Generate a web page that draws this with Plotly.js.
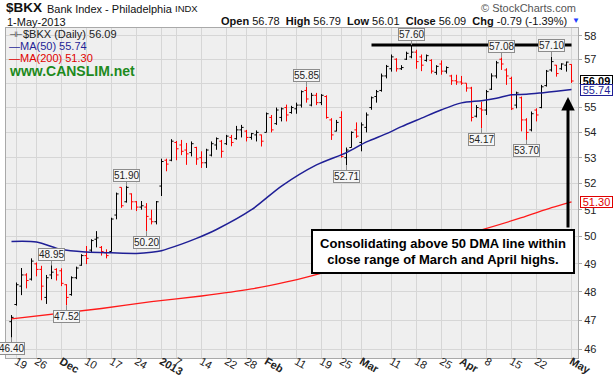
<!DOCTYPE html>
<html><head><meta charset="utf-8">
<script src="https://cdn.plot.ly/plotly-3.0.1.min.js"></script>
<style>html,body{margin:0;padding:0;background:#fff;}#chart{width:614px;height:375px;}</style>
</head><body><div id="chart"></div>
<script>
// ---------------- DATA ----------------
const dates = ['2012-11-16','2012-11-19','2012-11-20','2012-11-21','2012-11-23','2012-11-26','2012-11-27','2012-11-28','2012-11-29','2012-11-30',
'2012-12-03','2012-12-04','2012-12-05','2012-12-06','2012-12-07','2012-12-10','2012-12-11','2012-12-12','2012-12-13','2012-12-14',
'2012-12-17','2012-12-18','2012-12-19','2012-12-20','2012-12-21','2012-12-24','2012-12-26','2012-12-27','2012-12-28','2012-12-31',
'2013-01-02','2013-01-03','2013-01-04','2013-01-07','2013-01-08','2013-01-09','2013-01-10','2013-01-11','2013-01-14','2013-01-15',
'2013-01-16','2013-01-17','2013-01-18','2013-01-22','2013-01-23','2013-01-24','2013-01-25','2013-01-28','2013-01-29','2013-01-30',
'2013-01-31','2013-02-01','2013-02-04','2013-02-05','2013-02-06','2013-02-07','2013-02-08','2013-02-11','2013-02-12','2013-02-13',
'2013-02-14','2013-02-15','2013-02-19','2013-02-20','2013-02-21','2013-02-22','2013-02-25','2013-02-26','2013-02-27','2013-02-28',
'2013-03-01','2013-03-04','2013-03-05','2013-03-06','2013-03-07','2013-03-08','2013-03-11','2013-03-12','2013-03-13','2013-03-14',
'2013-03-15','2013-03-18','2013-03-19','2013-03-20','2013-03-21','2013-03-22','2013-03-25','2013-03-26','2013-03-27','2013-03-28',
'2013-04-01','2013-04-02','2013-04-03','2013-04-04','2013-04-05','2013-04-08','2013-04-09','2013-04-10','2013-04-11','2013-04-12',
'2013-04-15','2013-04-16','2013-04-17','2013-04-18','2013-04-19','2013-04-22','2013-04-23','2013-04-24','2013-04-25','2013-04-26',
'2013-04-29','2013-04-30','2013-05-01'];

const openP = [46.95,47.55,48.20,48.60,48.45,49.00,48.80,47.80,48.60,48.80,
48.75,48.25,47.90,48.50,48.95,49.30,49.50,49.90,49.60,49.40,
49.45,50.80,51.85,51.30,51.60,51.30,51.10,51.10,50.65,50.55,
51.90,52.90,52.90,53.60,53.50,53.30,53.20,53.40,53.00,52.80,
53.10,53.50,53.65,53.55,53.80,53.75,54.10,54.05,53.80,53.90,
53.90,54.00,54.60,54.35,54.60,55.00,54.80,54.95,55.10,55.70,
55.10,55.50,55.20,55.45,54.50,54.05,54.60,53.00,53.40,54.10,
53.60,54.20,55.00,55.45,55.70,56.30,56.60,57.00,56.60,57.00,
57.10,57.30,57.10,56.95,56.95,56.45,56.80,56.50,56.30,56.10,
56.05,56.00,55.80,54.65,54.95,54.90,55.75,56.30,57.00,56.55,
56.20,55.10,55.40,54.50,54.10,54.90,55.00,55.90,56.55,56.75,
56.60,56.75,56.78];

const highP = [47.18,48.33,48.85,48.66,49.20,49.05,48.93,48.60,48.95,48.84,
48.84,48.27,48.55,48.90,49.35,49.65,49.90,50.20,49.65,49.53,
50.70,51.65,51.85,51.90,51.62,51.33,51.33,51.25,51.00,51.33,
52.96,52.96,53.73,53.66,53.70,53.58,53.64,53.43,53.25,53.35,
53.64,53.80,53.70,53.90,53.90,54.26,54.30,54.10,53.98,54.08,
53.91,54.80,54.70,55.00,55.00,55.12,55.07,55.20,55.70,55.85,
55.60,55.60,55.55,55.50,54.57,54.50,54.85,53.40,54.04,54.40,
54.40,54.80,55.45,55.72,56.40,56.76,57.20,57.04,56.75,57.32,
57.60,57.40,57.20,57.20,57.00,56.75,56.95,56.70,56.35,56.35,
56.30,56.00,55.85,55.10,55.24,55.72,56.41,56.93,57.08,56.62,
56.27,55.65,55.45,54.57,54.84,54.97,55.93,56.55,57.10,56.76,
56.83,56.90,56.79];

const lowP = [46.40,47.51,47.88,48.12,48.40,48.55,47.70,47.57,48.45,48.40,
48.20,47.52,47.86,48.45,48.93,48.99,49.43,49.60,49.30,49.20,
49.45,50.64,51.07,51.27,51.00,50.95,51.00,50.20,50.45,50.45,
51.52,52.47,52.86,52.90,53.10,52.72,53.05,52.72,52.60,52.60,
53.05,53.31,53.00,53.50,53.45,53.71,53.80,53.64,53.71,53.64,
53.44,54.00,54.00,54.30,54.44,54.44,54.75,54.75,55.00,55.20,
55.05,55.10,55.10,54.55,53.70,54.04,53.00,52.71,53.40,53.78,
53.25,54.00,54.91,55.20,55.65,56.20,56.48,56.48,56.55,56.97,
57.04,56.60,56.50,56.90,56.40,56.35,56.35,56.40,55.93,55.93,
55.93,55.65,54.44,54.60,54.17,54.70,55.72,56.20,56.55,55.93,
54.90,54.97,54.04,53.70,54.04,54.44,54.97,55.86,56.48,56.27,
56.55,56.48,56.01];

const closeP = [47.10,48.25,48.60,48.40,49.10,48.80,48.20,48.50,48.70,48.60,
48.30,47.80,48.50,48.85,49.30,49.20,49.85,49.95,49.45,49.30,
50.65,51.60,51.15,51.85,51.30,51.10,51.15,50.75,50.55,51.30,
52.85,52.75,53.65,53.35,53.25,53.15,53.55,52.95,52.80,53.30,
53.55,53.75,53.25,53.85,53.60,54.10,54.20,53.80,53.95,54.00,
53.65,54.75,54.10,54.90,54.95,54.70,55.00,55.10,55.65,55.35,
55.50,55.20,55.50,54.60,53.90,54.40,53.05,53.30,54.00,53.85,
54.30,54.70,55.40,55.65,56.30,56.70,57.10,56.60,56.65,57.25,
57.30,56.90,56.75,57.15,56.50,56.70,56.50,56.65,56.10,56.05,
56.00,55.80,54.60,55.00,54.90,55.65,56.30,56.85,56.80,56.30,
54.95,55.60,54.50,54.00,54.75,54.70,55.85,56.50,56.90,56.40,
56.80,56.88,56.09];

// moving averages at sample dates
const ma50Dates = ['2012-11-16','2012-11-26','2012-12-03','2012-12-10','2012-12-17','2012-12-24','2012-12-28','2013-01-02','2013-01-08','2013-01-11',
'2013-01-17','2013-01-29','2013-02-06','2013-02-15','2013-02-26','2013-03-04','2013-03-08','2013-03-13','2013-03-19','2013-03-25',
'2013-04-01','2013-04-05','2013-04-10','2013-04-15','2013-04-18','2013-04-23','2013-04-26','2013-05-01'];
const ma50Vals = [49.82,49.80,49.52,49.43,49.40,49.38,49.42,49.48,49.72,49.93,
50.26,51.00,51.90,52.72,53.20,53.62,53.95,54.23,54.57,54.91,
55.19,55.28,55.38,55.52,55.54,55.60,55.67,55.74];
const ma200Dates = ['2012-11-16','2012-12-13','2012-12-28','2013-01-14','2013-01-29','2013-02-07','2013-02-14','2013-04-05','2013-04-17','2013-04-25','2013-05-01'];
const ma200Vals = [47.05,47.41,47.65,47.85,48.10,48.35,48.57,50.25,50.70,51.08,51.30];

const tickDates = ['2012-11-19','2012-11-26','2012-12-03','2012-12-10','2012-12-17','2012-12-24','2013-01-02','2013-01-07','2013-01-14','2013-01-22','2013-01-28','2013-02-01','2013-02-11','2013-02-19','2013-02-25','2013-03-01','2013-03-11','2013-03-18','2013-03-25','2013-04-01','2013-04-08','2013-04-15','2013-04-22','2013-05-01'];
const tickLabels = ['19','26','Dec','10','17','24','2013','7','14','22','28','Feb','11','19','25','Mar','11','18','25','Apr','8','15','22','May'];
const monthLabels = ['Dec','2013','Feb','Mar','Apr','May'];
const yTicks = [46,47,48,49,50,51,52,53,54,55,56,57,58];
const yTickLabels = ['46','47','48','49','50','51','52','53','54','55','','57','58']; // 56 hidden behind the price tag

const calloutDates = ['2012-11-16','2012-11-29','2012-12-04','2012-12-20','2012-12-27','2013-02-13','2013-02-26','2013-03-15','2013-04-05','2013-04-11','2013-04-18','2013-04-25'];
const calloutValues = [46.40,48.95,47.52,51.90,50.20,55.85,52.71,57.60,54.17,57.08,53.70,57.10];
const calloutSides = ['low','high','low','high','low','high','low','high','low','high','low','high'];

const resistanceDates = ['2013-03-05','2013-05-01'];
const resistanceLevel = 57.60;

const noteText = 'Consolidating above 50 DMA line within<br>close range of March and April highs.';

// ---------------- CHART ----------------
const F = 'Liberation Sans, Arial, sans-serif';
const L = 6, T = 28, W = 572, H = 330;
const X = d => dates.indexOf(d);
const idx = dates.map((d, i) => i);
const n = dates.length;

const upIds = [], dnIds = [];
for (let i = 0; i < n; i++) {
  if (i === 0 || closeP[i] >= closeP[i - 1]) upIds.push(i); else dnIds.push(i);
}
const pick = (arr, ids) => ids.map(i => arr[i]);
function ohlc(ids, color) {
  return {
    type: 'ohlc', x: pick(idx, ids), open: pick(openP, ids), high: pick(highP, ids),
    low: pick(lowP, ids), close: pick(closeP, ids), tickwidth: 0.42,
    increasing: {line: {color: color, width: 1}}, decreasing: {line: {color: color, width: 1}},
    hoverinfo: 'skip', showlegend: false
  };
}

const traces = [
  {type: 'scatter', mode: 'lines', x: ma200Dates.map(X), y: ma200Vals,
   line: {color: '#ff1a1a', width: 1.3, shape: 'spline', smoothing: 0.6}, hoverinfo: 'skip'},
  {type: 'scatter', mode: 'lines', x: ma50Dates.map(X), y: ma50Vals,
   line: {color: '#1f1f96', width: 1.5, shape: 'spline', smoothing: 0.8}, hoverinfo: 'skip'},
  ohlc(upIds, '#000000'),
  ohlc(dnIds, '#ff0000'),
  {type: 'scatter', mode: 'lines', x: resistanceDates.map(X), y: [resistanceLevel, resistanceLevel],
   line: {color: '#000000', width: 3}, hoverinfo: 'skip'}
];

function P(px, py, text, opts) {
  return Object.assign({xref: 'paper', yref: 'paper', x: (px - L) / W, y: (T + H - py) / H, text: text,
    showarrow: false, xanchor: 'left', yanchor: 'middle', font: {family: F, size: 11, color: '#222'}}, opts || {});
}

const last = n - 1;
const chg = closeP[last] - closeP[last - 1];
const pct = chg / closeP[last - 1] * 100;
const lastMA50 = ma50Vals[ma50Vals.length - 1];
const lastMA200 = ma200Vals[ma200Vals.length - 1];

const annotations = [
  P(4, 7.5, '<b>$BKX</b>', {font: {family: F, size: 13.5, color: '#111'}}),
  P(45, 8.5, 'Bank Index - Philadelphia', {font: {family: F, size: 11, color: '#111'}}),
  P(173, 8.5, 'INDX', {font: {family: F, size: 9.5, color: '#111'}}),
  P(5, 22, '1-May-2013', {font: {family: F, size: 11, color: '#111'}}),
  P(578, 7.5, '\u00A9 StockCharts.com', {xanchor: 'right', font: {family: F, size: 11, color: '#555'}}),
  P(569, 21, '<b>Open</b> ' + openP[last].toFixed(2) + '  <b>High</b> ' + highP[last].toFixed(2) +
     '  <b>Low</b> ' + lowP[last].toFixed(2) + '  <b>Close</b> ' + closeP[last].toFixed(2) +
     '  <b>Chg</b> ' + chg.toFixed(2) + ' (' + pct.toFixed(2) + '%)',
     {xanchor: 'right', font: {family: F, size: 11, color: '#111'}}),
  P(570, 21, '\u25BC', {font: {family: F, size: 8, color: '#1e3cff'}}),
  P(7, 34, '\u22A3\u22A2', {font: {family: 'DejaVu Sans', size: 8, color: '#222'}}),
  P(21, 34, '$BKX (Daily) ' + closeP[last].toFixed(2), {font: {family: F, size: 11, color: '#222'}}),
  P(7, 46, '\u2014MA(50) ' + lastMA50.toFixed(2), {font: {family: F, size: 11, color: '#1f1f96'}}),
  P(7, 58, '\u2014MA(200) ' + lastMA200.toFixed(2), {font: {family: F, size: 11, color: '#e00000'}}),
  P(7, 71, '<b>www.CANSLIM.net</b>', {font: {family: F, size: 14, color: '#1d8a1d'}})
];

calloutDates.forEach((d, k) => {
  annotations.push({
    xref: 'x', yref: 'y', x: X(d), y: Math.log10(calloutValues[k]), text: calloutValues[k].toFixed(2),
    showarrow: true, arrowhead: 0, arrowwidth: 1, arrowcolor: '#8c8c8c', standoff: 0,
    ax: 0, ay: calloutSides[k] === 'high' ? -11 : 11,
    font: {family: F, size: 10, color: '#222'}, bgcolor: '#f6f6f6', bordercolor: '#8c8c8c', borderwidth: 1, borderpad: 0
  });
});

// price tags on the right axis
[[closeP[last], '#000', true, 0], [lastMA50, '#1f1f96', false, -1], [lastMA200, '#e00000', false, 0]].forEach(t => {
  annotations.push({
    xref: 'paper', yref: 'y', x: 1, y: Math.log10(t[0]), xanchor: 'left', xshift: 2, yshift: t[3], yanchor: 'middle',
    text: t[2] ? '<b>' + t[0].toFixed(2) + '</b>' : t[0].toFixed(2), showarrow: false, height: 10, width: 31,
    font: {family: F, size: 11, color: t[1]}, bgcolor: '#ffffff', bordercolor: t[1], borderwidth: 1, borderpad: 0
  });
});

// arrow and note
annotations.push(P(568, 97, '', {xanchor: 'center', showarrow: true, ax: 0, ay: 132, arrowhead: 2,
  arrowsize: 0.9, arrowwidth: 3, arrowcolor: '#000'}));
annotations.push(P(443, 251.5, '<b>' + noteText + '</b>', {xanchor: 'center', width: 260, height: 41,
  bgcolor: '#ffffff', bordercolor: '#000', borderwidth: 2, borderpad: 0,
  font: {family: F, size: 13, color: '#000'}}));

const shapes = monthLabels.map(m => tickDates[tickLabels.indexOf(m)]).map(d => ({
  type: 'line', xref: 'x', yref: 'paper', x0: X(d), x1: X(d), y0: 0, y1: 1,
  line: {color: '#b4b4b4', width: 1}, layer: 'below'
}));

const layout = {
  width: 614, height: 375,
  margin: {l: L, r: 614 - L - W, t: T, b: 375 - T - H, pad: 0},
  paper_bgcolor: '#ffffff', plot_bgcolor: '#efefef', showlegend: false,
  xaxis: {
    type: 'linear', range: [-1.1, -1.1 + W / 5], rangeslider: {visible: false},
    tickvals: tickDates.map(X),
    ticktext: tickLabels.map(t => monthLabels.includes(t) ? '<b>' + t + '</b>' : t),
    tickfont: {family: F, size: 11, color: '#222'}, ticks: '', ticklen: 0, ticklabelstandoff: -8,
    showgrid: true, gridcolor: '#d6d6d6', gridwidth: 1,
    zeroline: false, showline: true, linecolor: '#a9a9a9', linewidth: 1, mirror: true, fixedrange: true
  },
  yaxis: {
    type: 'log', side: 'right', range: [1.659979, 1.765899],
    tickvals: yTicks, ticktext: yTickLabels,
    tickfont: {family: F, size: 11, color: '#222'}, ticks: 'outside', ticklen: 3, tickcolor: '#a9a9a9',
    showgrid: true, gridcolor: '#d6d6d6', gridwidth: 1, zeroline: false,
    showline: true, linecolor: '#a9a9a9', linewidth: 1, mirror: true, fixedrange: true
  },
  annotations: annotations,
  shapes: shapes
};

Plotly.newPlot('chart', traces, layout, {displayModeBar: false, staticPlot: true});
</script>
</body></html>
